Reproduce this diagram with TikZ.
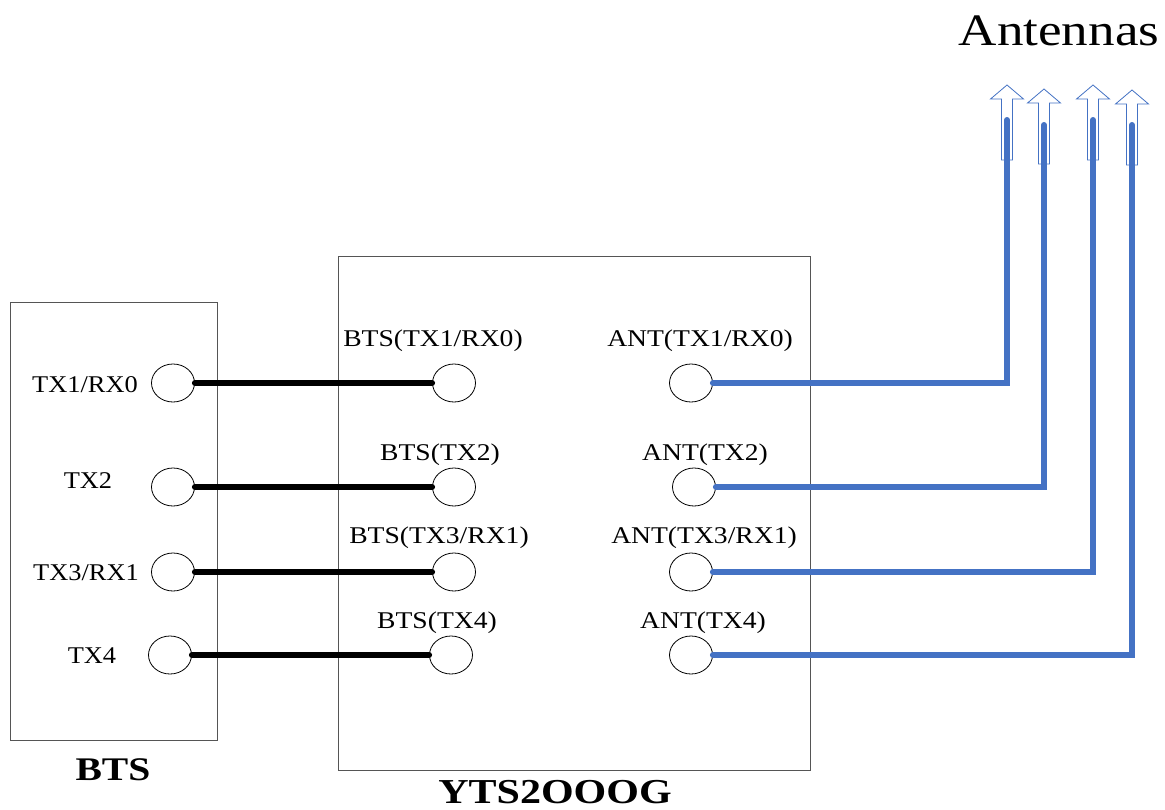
\documentclass[tikz,border=0pt]{standalone}
\usepackage{fontspec}
\usepackage{graphicx}
\setmainfont{Liberation Serif}
\usetikzlibrary{shapes.geometric}
\definecolor{cblue}{HTML}{4472C4}
\definecolor{boxgray}{HTML}{555555}
\newcommand{\sx}[2]{\scalebox{#1}[1]{#2}}
\begin{document}
\begin{tikzpicture}[x=1pt,y=-1pt,
  port/.style={draw=black,line width=0.8pt,ellipse,minimum width=43pt,minimum height=38pt,inner sep=0pt,fill=white},
  frame/.style={draw=boxgray,line width=0.9pt},
  lbl/.style={anchor=base,inner sep=0pt,font=\fontsize{24}{29}\selectfont},
  ilbl/.style={anchor=base,inner sep=0pt,font=\fontsize{24}{29}\selectfont},
  bline/.style={line width=6pt,black,line cap=round},
  uline/.style={line width=6pt,cblue,line cap=round,line join=miter},
  antarrow/.style={draw=cblue,line width=0.8pt,fill=white}]
\useasboundingbox (0,0) rectangle (1165,809);
% boxes
\draw[frame] (10,302) rectangle (217,740);
\draw[frame] (338,256) rectangle (810,770);
\node[anchor=base,inner sep=0pt,font=\fontsize{33}{38}\selectfont\bfseries] (btstitle) at (113,780) {\sx{1.2}{BTS}};
\node[anchor=base,inner sep=0pt,font=\fontsize{35}{40}\selectfont\bfseries] (ytstitle) at (555,803) {\sx{1.2}{YTS2OOOG}};
\node[anchor=base,inner sep=0pt,font=\fontsize{45}{50}\selectfont] (anttitle) at (1059,45) {\sx{1.18}{Antennas}};
% left labels
\node[lbl] (l1) at (85,392) {\sx{1.1}{TX1/RX0}};
\node[lbl] (l2) at (88,488) {\sx{1.1}{TX2}};
\node[lbl] (l3) at (86,580) {\sx{1.1}{TX3/RX1}};
\node[lbl] (l4) at (92,663) {\sx{1.1}{TX4}};
% inner labels
\node[ilbl] (b1l) at (433,346) {\sx{1.15}{BTS(TX1/RX0)}};
\node[ilbl] (b2l) at (440,460) {\sx{1.15}{BTS(TX2)}};
\node[ilbl] (b3l) at (439,543) {\sx{1.15}{BTS(TX3/RX1)}};
\node[ilbl] (b4l) at (437,628) {\sx{1.15}{BTS(TX4)}};
\node[ilbl] (a1l) at (700,346) {\sx{1.15}{ANT(TX1/RX0)}};
\node[ilbl] (a2l) at (705,460) {\sx{1.15}{ANT(TX2)}};
\node[ilbl] (a3l) at (704,543) {\sx{1.15}{ANT(TX3/RX1)}};
\node[ilbl] (a4l) at (703,628) {\sx{1.15}{ANT(TX4)}};
% ports
\node[port] (p1) at (173,383) {};
\node[port] (p2) at (173,487) {};
\node[port] (p3) at (173,572) {};
\node[port] (p4) at (170,655) {};
\node[port] (b1) at (454,383) {};
\node[port] (b2) at (454,487) {};
\node[port] (b3) at (454,572) {};
\node[port] (b4) at (451,655) {};
\node[port] (a1) at (691,383) {};
\node[port] (a2) at (694,487) {};
\node[port] (a3) at (691,572) {};
\node[port] (a4) at (691,655) {};
% antenna arrows
\foreach \cx/\ty in {1007/85,1044/89,1093/85,1132/90}{
  \draw[antarrow] (\cx,\ty) -- (\cx+16.5,\ty+14) -- (\cx+5.5,\ty+14) -- (\cx+5.5,\ty+75)
    -- (\cx-5.5,\ty+75) -- (\cx-5.5,\ty+14) -- (\cx-16.5,\ty+14) -- cycle;
}
\coordinate (t1) at (1007,120);
\coordinate (t2) at (1044,125);
\coordinate (t3) at (1093,120);
\coordinate (t4) at (1132,125);
% black connectors
\draw[bline] (p1.east) -- (b1.west);
\draw[bline] (p2.east) -- (b2.west);
\draw[bline] (p3.east) -- (b3.west);
\draw[bline] (p4.east) -- (b4.west);
% blue connectors
\draw[uline] (a1.east) -| (t1);
\draw[uline] (a2.east) -| (t2);
\draw[uline] (a3.east) -| (t3);
\draw[uline] (a4.east) -| (t4);
\end{tikzpicture}
\end{document}
